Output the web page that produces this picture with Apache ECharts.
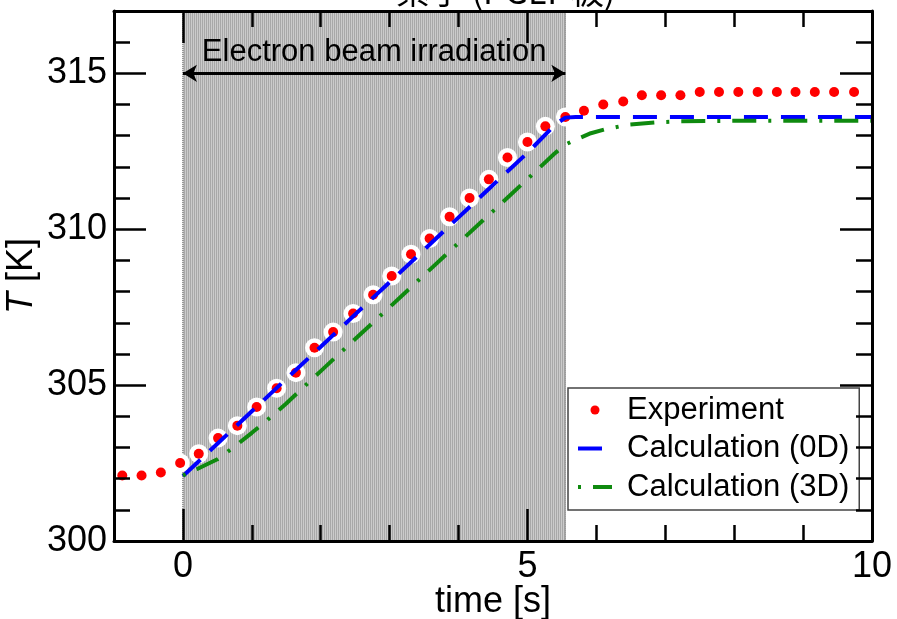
<!DOCTYPE html>
<html><head><meta charset="utf-8">
<script src="https://cdn.jsdelivr.net/npm/echarts@6/dist/echarts.min.js"></script>
<style>html,body{margin:0;padding:0;background:#fff}#c{width:897px;height:619px}</style>
</head><body><div id="c"></div>
<script>
// ---- data ----
const expTime = [-0.88, -0.60, -0.32, -0.04, 0.23, 0.51, 0.79, 1.07, 1.36, 1.64, 1.91, 2.18, 2.47, 2.76, 3.03, 3.31, 3.58, 3.87, 4.16, 4.44, 4.71, 5.00, 5.26, 5.55, 5.82, 6.10, 6.39, 6.66, 6.94, 7.22, 7.50, 7.78, 8.06, 8.34, 8.62, 8.89, 9.17, 9.45, 9.74];
const expTemp = [302.1, 302.1, 302.2, 302.5, 302.8, 303.3, 303.7, 304.3, 304.9, 305.4, 306.2, 306.7, 307.3, 307.9, 308.5, 309.2, 309.7, 310.4, 311.0, 311.6, 312.3, 312.8, 313.3, 313.6, 313.8, 314.0, 314.1, 314.3, 314.3, 314.3, 314.4, 314.4, 314.4, 314.4, 314.4, 314.4, 314.4, 314.4, 314.4];
const calc0DTime = [0, 0.5, 1.0, 1.5, 2.0, 2.5, 3.0, 3.5, 4.0, 4.5, 5.0, 5.4, 5.55, 5.7, 7.0, 8.5, 10];
const calc0DTemp = [302.08, 303.12, 304.16, 305.2, 306.23, 307.27, 308.3, 309.34, 310.38, 311.42, 312.45, 313.35, 313.58, 313.6, 313.6, 313.6, 313.6];
const calc3DTime = [0, 0.2, 0.5, 0.75, 1.0, 1.3, 1.5, 1.7, 2.0, 2.5, 3.0, 3.5, 4.0, 4.5, 5.0, 5.39, 5.55, 5.73, 5.92, 6.12, 6.48, 6.87, 7.2, 8.0, 10];
const calc3DTemp = [302.1, 302.3, 302.62, 303.03, 303.47, 304.02, 304.41, 304.83, 305.45, 306.48, 307.5, 308.53, 309.56, 310.58, 311.61, 312.42, 312.72, 312.9, 313.08, 313.2, 313.36, 313.43, 313.46, 313.48, 313.48];
const xMajorTicks = [0, 5, 10];
const xMinorTicks = [1, 2, 3, 4, 6, 7, 8, 9];
const yMajorTicks = [300, 305, 310, 315];
const yMinorTicks = [301, 302, 303, 304, 306, 307, 308, 309, 311, 312, 313, 314, 316];
const irradiation = [0, 5.55];
const arrowLevel = 315;
const seriesNames = ['Experiment', 'Calculation (0D)', 'Calculation (3D)'];
const annotationText = 'Electron beam irradiation';
const titleText = '素子 (PGLT 板)';

const pair = (xs, ys) => xs.map((x, i) => [x, ys[i]]);

// hatch pattern
const pc = document.createElement('canvas');
pc.width = 2; pc.height = 1;
const pctx = pc.getContext('2d');
pctx.fillStyle = '#a8a8a8'; pctx.fillRect(0, 0, 1, 1);
pctx.fillStyle = '#cbcbcb'; pctx.fillRect(1, 0, 1, 1);

const FONT = 'Liberation Sans, Arial, Helvetica, sans-serif';
const tickStyle = { color: '#000', width: 2.5 };

function xAx(pos, ticks, len, major) {
  return {
    type: 'value', position: pos, min: -1, max: 10, z: 10,
    axisLine: { show: major, onZero: false, lineStyle: { color: '#000', width: 3 } },
    axisTick: { show: true, inside: true, length: len, customValues: ticks, lineStyle: tickStyle },
    axisLabel: (major && pos === 'bottom') ? { show: true, customValues: xMajorTicks, fontSize: 36, color: '#000', fontFamily: FONT, margin: 8 } : { show: false },
    splitLine: { show: false },
    name: (major && pos === 'bottom') ? 'time [s]' : '',
    nameLocation: 'middle', nameGap: 43, nameMoveOverlap: false,
    nameTextStyle: { fontSize: 36, color: '#000', fontFamily: FONT }
  };
}
function yAx(pos, ticks, len, major) {
  return {
    type: 'value', position: pos, min: 300, max: 317, z: 10,
    axisLine: { show: major, onZero: false, lineStyle: { color: '#000', width: 3 } },
    axisTick: { show: true, inside: true, length: len, customValues: ticks, lineStyle: tickStyle },
    axisLabel: (major && pos === 'left') ? { show: true, customValues: yMajorTicks, fontSize: 36, color: '#000', fontFamily: FONT, margin: 7 } : { show: false },
    splitLine: { show: false },
    name: (major && pos === 'left') ? '{i|T} [K]' : '',
    nameLocation: 'middle', nameGap: 74, nameRotate: 90, nameMoveOverlap: false,
    nameTextStyle: { fontSize: 36, color: '#000', fontFamily: FONT, rich: { i: { fontSize: 36, fontStyle: 'italic', fontFamily: FONT, color: '#000' } } }
  };
}

const chart = echarts.init(document.getElementById('c'), null, { renderer: 'canvas' });
chart.setOption({
  animation: false,
  backgroundColor: '#fff',
  title: {
    text: titleText, left: 396, top: -26, padding: 0,
    textStyle: { fontSize: 34, fontWeight: 'normal', color: '#000', fontFamily: 'Noto Sans CJK JP, ' + FONT }
  },
  grid: { left: 114, right: 25, top: 11, bottom: 78, containLabel: false, outerBoundsMode: 'none' },
  xAxis: [
    xAx('bottom', xMajorTicks, 32, true),
    xAx('bottom', xMinorTicks, 16, false),
    xAx('top', xMajorTicks, 32, true),
    xAx('top', xMinorTicks, 16, false)
  ],
  yAxis: [
    yAx('left', yMajorTicks, 32, true),
    yAx('left', yMinorTicks, 16, false),
    yAx('right', yMajorTicks, 32, true),
    yAx('right', yMinorTicks, 16, false)
  ],
  legend: {
    data: [
      { name: seriesNames[0] },
      { name: seriesNames[1], itemStyle: { opacity: 0 } },
      { name: seriesNames[2], itemStyle: { opacity: 0 } }
    ],
    orient: 'vertical', left: 568, top: 388,
    padding: [6, 10, 7, 8], itemGap: 6.5, itemWidth: 34, itemHeight: 9,
    backgroundColor: '#fff', borderColor: '#444', borderWidth: 1.5, borderRadius: 0,
    textStyle: { fontSize: 31, color: '#000', fontFamily: FONT, lineHeight: 32, padding: [0, 0, 0, 10] },
    lineStyle: { width: 4 },
    selectedMode: false
  },
  series: [
    {
      name: 'shade', type: 'line', data: [], xAxisIndex: 0, yAxisIndex: 0, symbol: 'none', silent: true, z: 1,
      markArea: {
        silent: true, z: 1,
        itemStyle: { color: { image: pc, repeat: 'repeat' }, borderColor: '#444', borderWidth: 1, borderType: 'dotted' },
        data: [[{ xAxis: irradiation[0] }, { xAxis: irradiation[1] }]]
      }
    },
    {
      name: 'halo', type: 'scatter', data: pair(expTime, expTemp), symbol: 'circle', symbolSize: 19,
      itemStyle: { color: '#fff', opacity: 1 }, z: 3, silent: true
    },
    {
      name: seriesNames[0], type: 'scatter', data: pair(expTime, expTemp), symbol: 'circle', symbolSize: 10,
      itemStyle: { color: '#ff0000', opacity: 1 }, z: 4
    },
    {
      name: seriesNames[1], type: 'line', data: pair(calc0DTime, calc0DTemp), symbol: 'none', z: 5,
      itemStyle: { color: '#0000ff' },
      lineStyle: { color: '#0000ff', width: 4, type: [24, 13] }
    },
    {
      name: seriesNames[2], type: 'line', data: pair(calc3DTime, calc3DTemp), symbol: 'none', z: 6,
      itemStyle: { color: '#0f8a0f' },
      lineStyle: { color: '#0f8a0f', width: 4, type: [24, 12, 3, 12], dashOffset: 36 }
    },
    {
      name: 'arrow', type: 'line', data: [], symbol: 'none', silent: true, z: 8,
      markLine: {
        silent: true, z: 8, symbol: ['arrow', 'arrow'], symbolSize: [13, 14],
        lineStyle: { color: '#000', width: 3, type: 'solid' },
        label: { show: true, position: 'insideMiddleTop', distance: 5, formatter: annotationText, fontSize: 31, color: '#000', fontFamily: FONT },
        data: [[{ coord: [irradiation[0], arrowLevel] }, { coord: [irradiation[1], arrowLevel] }]]
      }
    }
  ]
});
</script></body></html>
